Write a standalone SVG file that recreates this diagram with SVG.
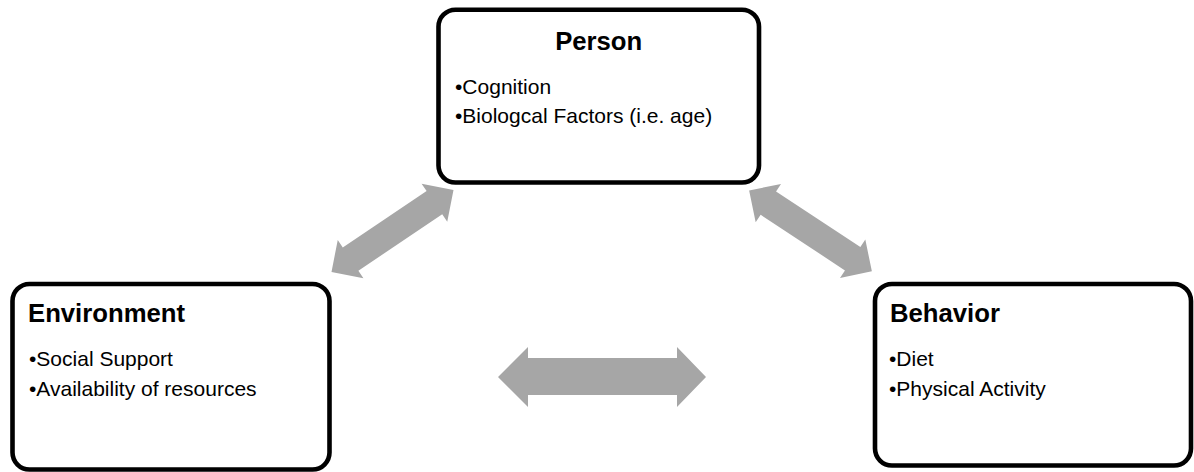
<svg xmlns="http://www.w3.org/2000/svg" width="1194" height="472" viewBox="0 0 1194 472">
  <style>
    .box { fill: #ffffff; stroke: #000000; stroke-width: 4.6; }
    .head { font-family: "Liberation Sans", Arial, sans-serif; font-weight: bold; font-size: 25.7px; fill: #000000; }
    .item { font-family: "Liberation Sans", Arial, sans-serif; font-size: 21px; fill: #000000; }
    .arrow { fill: #A6A6A6; stroke: none; }
  </style>
  <defs>
    <polygon id="diagArrow" points="-73.5,0 -50.5,-23 -50.5,-14 50.5,-14 50.5,-23 73.5,0 50.5,23 50.5,14 -50.5,14 -50.5,23"/>
  </defs>
  <rect width="1194" height="472" fill="#ffffff"/>

  <g id="connectors">
    <use href="#diagArrow" class="arrow" transform="translate(392.5,230.9) rotate(-33.9)"/>
    <use href="#diagArrow" class="arrow" transform="translate(810.5,230.9) rotate(33.4)"/>
    <polygon class="arrow" points="498,377 528,347 528,358 677,358 677,347 706,377 677,407 677,395 528,395 528,407"/>
  </g>

  <g id="person">
    <rect class="box" x="438.5" y="9.7" width="320.5" height="172.8" rx="17" ry="17"/>
    <text class="head" x="598.7" y="50" text-anchor="middle">Person</text>
    <text class="item" x="455" y="94">•Cognition</text>
    <text class="item" x="455" y="123">•Biologcal Factors (i.e. age)</text>
  </g>

  <g id="environment">
    <rect class="box" x="12.5" y="284" width="317" height="185.5" rx="17" ry="17"/>
    <text class="head" x="28" y="322">Environment</text>
    <text class="item" x="29" y="366">•Social Support</text>
    <text class="item" x="29" y="396">•Availability of resources</text>
  </g>

  <g id="behavior">
    <rect class="box" x="875" y="284" width="316" height="181.5" rx="17" ry="17"/>
    <text class="head" x="890" y="322">Behavior</text>
    <text class="item" x="889" y="366">•Diet</text>
    <text class="item" x="889" y="396">•Physical Activity</text>
  </g>
</svg>
